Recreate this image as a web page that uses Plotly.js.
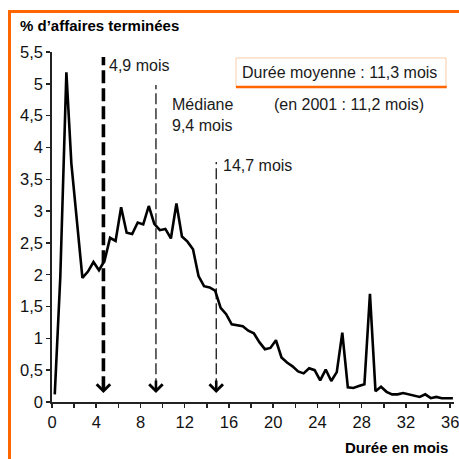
<!DOCTYPE html>
<html>
<head>
<meta charset="utf-8">
<script src="https://cdn.plot.ly/plotly-3.0.1.min.js"></script>
<style>
  html, body { margin: 0; padding: 0; background: #fff; overflow: hidden; }
  #wrap { position: relative; width: 459px; height: 459px; }
  #chart { position: absolute; left: 0; top: 0; width: 459px; height: 459px; }
  #frame { position: absolute; left: 8px; top: 10px; width: 470px; height: 470px;
           border-left: 3px solid #ff6600; border-top: 3px solid #ff6600; pointer-events: none; }
</style>
</head>
<body>
<div id="wrap">
  <div id="chart"></div>
  <div id="frame"></div>
</div>
<script>
// Durée en mois (milieu de chaque demi-mois)
const months = [0.25, 0.75, 1.3, 1.75, 2.25, 2.75, 3.25, 3.75, 4.25, 4.75,
  5.25, 5.75, 6.25, 6.75, 7.25, 7.75, 8.25, 8.75, 9.25, 9.75,
  10.25, 10.75, 11.25, 11.75, 12.25, 12.75, 13.25, 13.75, 14.25, 14.75,
  15.25, 15.75, 16.25, 16.75, 17.25, 17.75, 18.25, 18.75, 19.25, 19.75,
  20.25, 20.75, 21.25, 21.75, 22.25, 22.75, 23.25, 23.75, 24.25, 24.75,
  25.25, 25.75, 26.25, 26.75, 27.25, 27.75, 28.25, 28.75, 29.25, 29.75,
  30.25, 30.75, 31.25, 31.75, 32.25, 32.75, 33.25, 33.75, 34.25, 34.75,
  35.25, 35.75, 36.25];
// % d'affaires terminées
const pctDone = [0.12, 1.96, 5.18, 3.75, 2.85, 1.95, 2.05, 2.2, 2.07, 2.22,
  2.58, 2.53, 3.06, 2.66, 2.64, 2.82, 2.79, 3.08, 2.8, 2.7,
  2.72, 2.57, 3.12, 2.6, 2.52, 2.4, 1.98, 1.82, 1.8, 1.75,
  1.48, 1.38, 1.22, 1.21, 1.19, 1.12, 1.08, 0.94, 0.83, 0.85,
  0.97, 0.70, 0.62, 0.56, 0.48, 0.45, 0.53, 0.50, 0.34, 0.51,
  0.33, 0.47, 1.09, 0.23, 0.22, 0.25, 0.28, 1.70, 0.17, 0.24,
  0.16, 0.12, 0.12, 0.14, 0.12, 0.11, 0.08, 0.12, 0.06, 0.08,
  0.06, 0.06, 0.06];

// Repères (quartile, médiane, quartile)
const markPos = [4.65, 9.4, 14.85];
const markTop = [5.42, 4.98, 3.77];
const markLabels = ['4,9 mois', 'Médiane<br>9,4 mois', '14,7 mois'];
const markLabelX = [4.95, 10.7, 15.3];
const markLabelY = [5.29, 4.51, 3.71];
const markWidth = [3.6, 1.2, 1.2];
const markDash = ['13px,5px', '11px,4px', '11px,4px'];

const xTickVals = [0, 4, 8, 12, 16, 20, 24, 28, 32, 36];
const xTickText = ['0', '4', '8', '12', '16', '20', '24', '28', '32', '36'];
const yTickVals = [0, 0.5, 1, 1.5, 2, 2.5, 3, 3.5, 4, 4.5, 5, 5.5];
const yTickText = ['0', '0,5', '1', '1,5', '2', '2,5', '3', '3,5', '4', '4,5', '5', '5,5'];

const FONT = 'Liberation Sans, Arial, sans-serif';

const trace = {
  x: months, y: pctDone, type: 'scatter', mode: 'lines',
  line: { color: '#000', width: 2.6 }, hoverinfo: 'skip', showlegend: false
};

const shapes = [];
const annotations = [];
markPos.forEach((p, i) => {
  shapes.push({ type: 'line', xref: 'x', yref: 'y', x0: p, x1: p, y0: 0.2, y1: markTop[i],
    line: { color: '#000', width: markWidth[i], dash: markDash[i] } });
  annotations.push({ x: p, y: 0.14, xref: 'x', yref: 'y', text: '', showarrow: true,
    ax: 0, ay: -14, arrowhead: 4, arrowsize: 1, arrowwidth: 2.6, arrowcolor: '#000' });
  annotations.push({ x: markLabelX[i], y: markLabelY[i], xref: 'x', yref: 'y', text: markLabels[i],
    showarrow: false, xanchor: 'left', yanchor: 'middle', align: 'left',
    font: { family: FONT, size: 16, color: '#1a1a1a' } });
});

// Encadré durée moyenne
shapes.push({ type: 'rect', xref: 'paper', yref: 'paper', x0: 0.4577, x1: 0.980, y0: 0.90, y1: 0.983,
  line: { color: '#f9cba8', width: 1 }, fillcolor: 'rgba(0,0,0,0)' });
shapes.push({ type: 'line', xref: 'paper', yref: 'paper', x0: 0.4577, x1: 0.982, y0: 0.90, y1: 0.90,
  line: { color: '#ff6600', width: 2.5 } });
annotations.push({ x: 0.716, y: 0.942, xref: 'paper', yref: 'paper', text: 'Durée moyenne : 11,3 mois',
  showarrow: false, xanchor: 'center', yanchor: 'middle',
  font: { family: FONT, size: 16, color: '#1a1a1a' } });
annotations.push({ x: 0.739, y: 0.851, xref: 'paper', yref: 'paper', text: '(en 2001 : 11,2 mois)',
  showarrow: false, xanchor: 'center', yanchor: 'middle',
  font: { family: FONT, size: 16, color: '#1a1a1a' } });
// Titre axe X
annotations.push({ x: 0.99, y: -0.131, xref: 'paper', yref: 'paper', text: 'Durée en mois',
  showarrow: false, xanchor: 'right', yanchor: 'middle',
  font: { family: FONT, size: 15, color: '#000', weight: 'bold' } });

const layout = {
  width: 459, height: 459,
  margin: { l: 52, r: 5, t: 52, b: 57 },
  paper_bgcolor: '#fff', plot_bgcolor: '#fff',
  separators: ', ',
  font: { family: FONT, size: 16, color: '#000' },
  title: { text: '% d’affaires terminées', x: 20 / 459, xanchor: 'left', y: 1 - 26 / 459, yanchor: 'middle',
    font: { family: FONT, size: 15, color: '#000', weight: 'bold' } },
  xaxis: {
    range: [0, 36.35], tickmode: 'array', tickvals: xTickVals, ticktext: xTickText,
    ticks: 'outside', ticklen: 4, tickwidth: 1.5, tickcolor: '#222', ticklabeloverflow: 'allow',
    minor: { dtick: 2, tick0: 0, ticks: 'outside', ticklen: 4, tickwidth: 1.5, tickcolor: '#222', showgrid: false },
    showline: true, linecolor: '#222', linewidth: 1.8, showgrid: false, zeroline: false,
    tickfont: { family: FONT, size: 16.5, color: '#111' }, fixedrange: true
  },
  yaxis: {
    range: [0, 5.5], tickmode: 'array', tickvals: yTickVals, ticktext: yTickText,
    ticks: 'outside', ticklen: 4, tickwidth: 1.5, tickcolor: '#222', ticklabeloverflow: 'allow',
    showline: true, linecolor: '#222', linewidth: 1.8, showgrid: false, zeroline: false,
    tickfont: { family: FONT, size: 16.5, color: '#111' }, fixedrange: true
  },
  shapes: shapes,
  annotations: annotations,
  showlegend: false
};

Plotly.newPlot('chart', [trace], layout, { staticPlot: true, displayModeBar: false });
</script>
</body>
</html>
